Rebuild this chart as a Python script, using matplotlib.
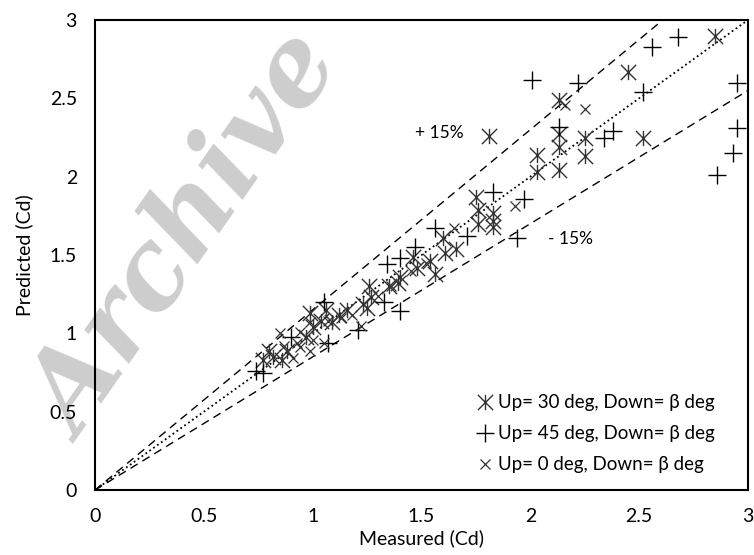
import matplotlib.pyplot as plt
import numpy as np
from matplotlib.path import Path

# Up = 30 deg series (star markers)
up30_x = [2.85, 2.45, 2.13, 1.81, 2.13, 2.13, 2.25, 2.52, 2.03, 2.25, 2.03, 2.13,
          1.83, 1.83, 1.75, 1.76, 1.76, 1.83, 1.60, 1.66, 1.61, 1.46, 1.54, 1.56,
          1.48, 1.40, 1.39, 1.35, 1.26, 1.27, 1.23, 1.25, 1.16, 1.12, 1.06, 1.09,
          1.04, 1.00, 0.97, 0.99, 0.82, 0.86, 0.88, 0.80, 0.77]
up30_y = [2.90, 2.67, 2.49, 2.26, 2.27, 2.19, 2.25, 2.25, 2.14, 2.13, 2.03, 2.04,
          1.77, 1.72, 1.87, 1.79, 1.70, 1.68, 1.61, 1.54, 1.51, 1.49, 1.46, 1.38,
          1.42, 1.36, 1.32, 1.30, 1.30, 1.23, 1.19, 1.16, 1.15, 1.12, 1.15, 1.07,
          1.08, 1.04, 0.98, 1.13, 0.85, 0.83, 0.89, 0.89, 0.83]

# Up = 45 deg series (plus markers)
up45_x = [2.68, 2.56, 2.01, 2.22, 2.52, 2.95, 2.13, 2.38, 2.34, 2.95, 2.93, 2.86,
          1.83, 1.97, 1.94, 1.56, 1.71, 1.47, 1.40, 1.34, 1.33, 1.40, 1.21, 1.05,
          1.07, 0.77, 0.74, 0.90]
up45_y = [2.89, 2.83, 2.62, 2.60, 2.54, 2.60, 2.32, 2.29, 2.25, 2.31, 2.15, 2.01,
          1.90, 1.86, 1.61, 1.67, 1.62, 1.55, 1.48, 1.44, 1.20, 1.14, 1.02, 1.20,
          0.94, 0.75, 0.76, 0.98]

# Up = 0 deg series (small x markers)
up0_x = [2.16, 2.25, 1.93, 1.65, 0.91, 0.94, 1.00, 0.99, 1.05, 0.85, 0.94, 0.99,
         1.07, 0.93, 1.13, 1.18, 1.30, 1.36, 1.45, 0.87, 1.22, 1.52]
up0_y = [2.46, 2.43, 1.81, 1.67, 0.84, 0.91, 0.96, 0.89, 0.94, 1.00, 1.01, 1.07,
         1.08, 0.94, 1.10, 1.12, 1.24, 1.30, 1.40, 0.92, 1.05, 1.45]

ticks = [0, 0.5, 1, 1.5, 2, 2.5, 3]
tick_labels = ['0', '0.5', '1', '1.5', '2', '2.5', '3']

plt.rcParams['font.family'] = ['Lato', 'DejaVu Sans']

# Excel-style star marker: X with a vertical bar
star = Path([(-1, -1), (1, 1), (-1, 1), (1, -1), (0, -1), (0, 1)],
            [Path.MOVETO, Path.LINETO, Path.MOVETO, Path.LINETO, Path.MOVETO, Path.LINETO])

fig = plt.figure(figsize=(7.54, 5.55), dpi=100)
ax = fig.add_axes([0.126, 0.117, 0.866, 0.847])
ax.patch.set_alpha(0)

# watermark
fig.text(0.25, 0.57, 'Archive', fontsize=78, family='DejaVu Serif', style='italic',
         weight='bold', color='#cdcdcd', rotation=55, ha='center', va='center', zorder=-5)

line = np.array([0, 3])
ax.plot(line, line, color='black', ls=':', lw=1.3)
ax.plot(line, 1.15 * line, color='black', ls=(0, (6, 4)), lw=1.0)
ax.plot(line, 0.85 * line, color='black', ls=(0, (6, 4)), lw=1.0)

ax.plot(up30_x, up30_y, ls='none', marker=star, ms=11, mec='#333333', mew=1.0,
        label='Up= 30 deg, Down= β deg')
ax.plot(up45_x, up45_y, ls='none', marker='+', ms=13, mec='black', mew=1.0,
        label='Up= 45 deg, Down= β deg')
ax.plot(up0_x, up0_y, ls='none', marker='x', ms=7, mec='#333333', mew=0.9,
        label='Up= 0 deg, Down= β deg')

ax.text(1.47, 2.28, '+ 15%', fontsize=12.5, va='center')
ax.text(2.08, 1.6, '- 15%', fontsize=12.5, va='center')

ax.set_xlim(0, 3)
ax.set_ylim(0, 3)
ax.set_xticks(ticks)
ax.set_xticklabels(tick_labels)
ax.set_yticks(ticks)
ax.set_yticklabels(tick_labels)
ax.tick_params(length=0, labelsize=14, pad=13)
for s in ax.spines.values():
    s.set_linewidth(1.5)

ax.set_xlabel('Measured (Cd)', fontsize=14, labelpad=3)
ax.set_ylabel('Predicted (Cd)', fontsize=14, labelpad=12)

ax.legend(loc='lower right', frameon=False, fontsize=13.5, handletextpad=0.2,
          handlelength=1.0, labelspacing=0.75, bbox_to_anchor=(0.975, 0.0))

fig.savefig('out.png', dpi=100)
